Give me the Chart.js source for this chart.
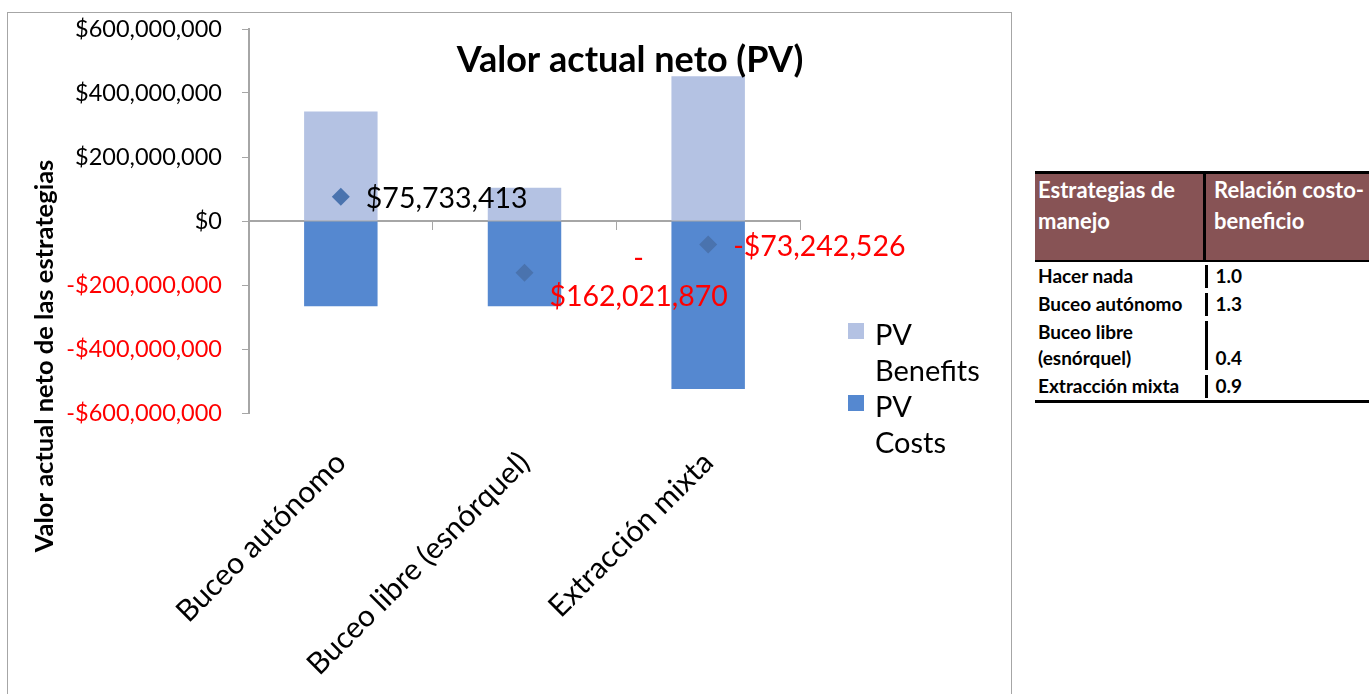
<!DOCTYPE html>
<html>
<head>
<meta charset="utf-8">
<script src="https://cdn.jsdelivr.net/npm/chart.js@4.4.1/dist/chart.umd.min.js"></script>
<style>
  body { margin: 0; width: 1369px; height: 694px; overflow: hidden; background: #fff; font-family: Lato, 'Open Sans', sans-serif; position: relative; }
  #box { position: absolute; left: 7px; top: 12px; width: 1003px; height: 698px; border: 1px solid #a6a6a6; }
  #legend { position: absolute; left: 848px; top: 316px; font-size: 29px; line-height: 36px; color: #000; }
  .lg-item { position: relative; padding-left: 27px; width: 104px; }
  .lg-sw { position: absolute; left: 0; top: 7px; width: 16px; height: 16px; }
  #tbl { position: absolute; left: 1035px; top: 171px; width: 334px; border-collapse: collapse; font-weight: bold; }
  #tbl th { background: #875355; color: #fff; font-size: 22px; text-align: left; vertical-align: top; padding: 0 3px 24px 3px; line-height: 31px; font-weight: bold; }
  #tbl th.c2 { border-left: 3px solid #000; padding-left: 8px; }
  #tbl thead tr { border-top: 3px solid #000; border-bottom: 2px solid #000; }
  #tbl td { font-size: 19px; padding: 1px 3px; line-height: 26px; vertical-align: bottom; color: #000; }
  #tbl td.c2 { padding-left: 11px; background: linear-gradient(#000, #000) 0 3px / 3px calc(100% - 5px) no-repeat; }
  #tbl tbody tr:last-child { border-bottom: 3px solid #000; }
</style>
</head>
<body>
<div id="box"><canvas id="c" width="1003" height="698"></canvas></div>
<div id="legend"></div>
<table id="tbl">
  <thead><tr><th style="width:162px">Estrategias de manejo</th><th class="c2">Relación costo-beneficio</th></tr></thead>
  <tbody id="tbody"></tbody>
</table>
<script>
// chart data
const categories = ['Buceo autónomo', 'Buceo libre (esnórquel)', 'Extracción mixta'];
const pvBenefits = [342000000, 104000000, 452000000];
const pvCosts = [-266266587, -266021870, -525242526];
const pvNet = [75733413, -162021870, -73242526];
const yMin = -600000000;
const yMax = 600000000;
const yStep = 200000000;

// side table
const tableNames = ['Hacer nada', 'Buceo autónomo', 'Buceo libre (esnórquel)', 'Extracción mixta'];
const tableRatios = ['1.0', '1.3', '0.4', '0.9'];

const wrapLabel = [false, true, false];

const fmt = v => (v < 0 ? '-' : '') + '$' + Math.abs(v).toLocaleString('en-US');

document.addEventListener('DOMContentLoaded', () => {
    // table rows
    const tbody = document.getElementById('tbody');
    tableNames.forEach((name, i) => {
        const tr = document.createElement('tr');
        tr.innerHTML = `<td>${name}</td><td class="c2">${tableRatios[i]}</td>`;
        tbody.appendChild(tr);
    });

    // legend
    const legend = document.getElementById('legend');
    [['PV Benefits', '#b4c2e3'], ['PV Costs', '#5588d0']].forEach(([txt, col]) => {
        const d = document.createElement('div');
        d.className = 'lg-item';
        d.innerHTML = `<span class="lg-sw" style="background:${col}"></span>${txt}`;
        legend.appendChild(d);
    });

    const axisGrey = '#a6a6a6';

    const labelPlugin = {
        id: 'netLabels',
        afterDatasetsDraw(chart) {
            const meta = chart.getDatasetMeta(2);
            const c = chart.ctx;
            c.save();
            c.font = '28.5px Lato';
            c.textBaseline = 'middle';
            meta.data.forEach((pt, i) => {
                const v = pvNet[i];
                const txt = fmt(v);
                c.fillStyle = v < 0 ? '#ff0000' : '#000000';
                if (wrapLabel[i]) {
                    const rest = txt.slice(1);
                    const w = c.measureText(rest).width;
                    const cx = pt.x + 25 + w / 2;
                    c.textAlign = 'center';
                    c.fillText('-', cx, pt.y - 14);
                    c.fillText(rest, cx, pt.y + 24);
                } else {
                    c.textAlign = 'left';
                    c.fillText(txt, pt.x + 25, pt.y + 2);
                }
            });
            c.restore();
        }
    };

    const titlePlugin = {
        id: 'titles',
        afterDraw(chart) {
            const c = chart.ctx;
            c.save();
            c.fillStyle = '#000';
            c.textAlign = 'center';
            c.textBaseline = 'middle';
            c.font = 'bold 36px Lato';
            c.fillText('Valor actual neto (PV)', 622, 47);
            c.translate(37, 343);
            c.rotate(-Math.PI / 2);
            c.font = 'bold 25.5px Lato';
            c.fillText('Valor actual neto de las estrategias', 0, 0);
            c.restore();
        }
    };

    const ctx = document.getElementById('c').getContext('2d');
    new Chart(ctx, {
        data: {
            labels: categories,
            datasets: [
                {
                    type: 'bar',
                    label: 'PV Benefits',
                    data: pvBenefits,
                    backgroundColor: '#b4c2e3',
                    barPercentage: 0.4,
                    categoryPercentage: 1,
                    order: 1
                },
                {
                    type: 'bar',
                    label: 'PV Costs',
                    data: pvCosts,
                    backgroundColor: '#5588d0',
                    barPercentage: 0.4,
                    categoryPercentage: 1,
                    order: 1
                },
                {
                    type: 'line',
                    label: 'PV',
                    data: pvNet,
                    stack: 'net',
                    showLine: false,
                    pointStyle: 'rectRot',
                    pointRadius: 9,
                    pointBackgroundColor: '#4a73ae',
                    pointBorderWidth: 0,
                    order: 0
                }
            ]
        },
        options: {
            responsive: false,
            animation: false,
            layout: { padding: { top: 16, right: 211, left: 0, bottom: 0 } },
            plugins: {
                legend: { display: false },
                tooltip: { enabled: false }
            },
            scales: {
                x: {
                    stacked: true,
                    grid: { display: false },
                    border: { display: false },
                    afterFit: s => { s.height = 298; s.paddingLeft = 0; s.paddingRight = 0; },
                    ticks: {
                        minRotation: 45,
                        maxRotation: 45,
                        padding: 24,
                        color: '#000',
                        font: { family: 'Lato', size: 30 }
                    }
                },
                x2: {
                    type: 'category',
                    position: { y: 0 },
                    offset: true,
                    grid: { drawOnChartArea: false, tickLength: 8, color: axisGrey, offset: true },
                    border: { color: axisGrey, width: 2 },
                    ticks: { display: false }
                },
                y: {
                    stacked: true,
                    min: yMin,
                    max: yMax,
                    afterFit: s => { s.width = 241; s.paddingTop = 0; s.paddingBottom = 0; },
                    grid: { drawOnChartArea: false, tickLength: 7, tickColor: axisGrey, color: axisGrey },
                    border: { color: axisGrey, width: 2 },
                    ticks: {
                        stepSize: yStep,
                        padding: 20,
                        color: c => (c.tick && c.tick.value < 0 ? '#ff0000' : '#000'),
                        font: { family: 'Lato', size: 23.5 },
                        callback: v => fmt(v)
                    }
                }
            }
        },
        plugins: [labelPlugin, titlePlugin]
    });
});
</script>
</body>
</html>
